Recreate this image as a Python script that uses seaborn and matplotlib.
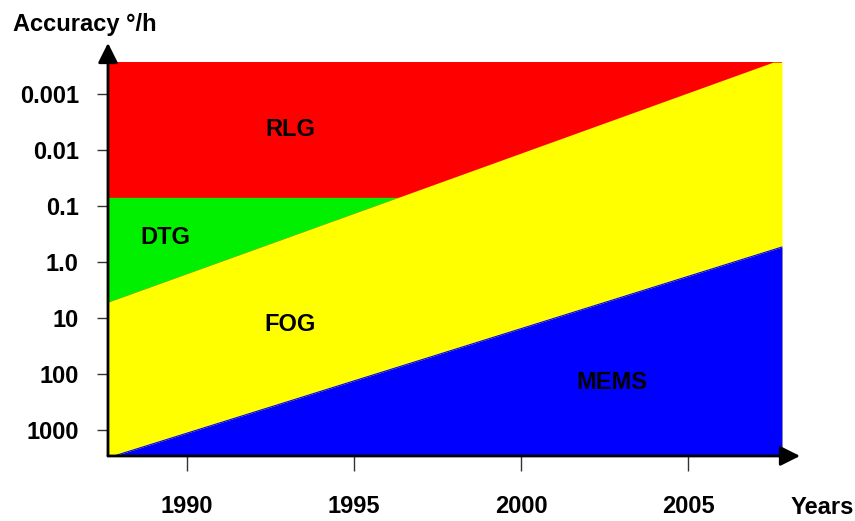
import numpy as np
import matplotlib
matplotlib.use("Agg")
import matplotlib.pyplot as plt
import seaborn as sns

sns.set_style("white")
plt.rcParams["font.family"] = ["Liberation Sans", "DejaVu Sans"]
plt.rcParams["font.weight"] = "bold"
plt.rcParams["text.color"] = "black"
plt.rcParams["xtick.color"] = "black"
plt.rcParams["ytick.color"] = "black"

# Time span covered by the technology map (years)
year_start = 1987.63
year_end = 2007.81

# Accuracy band limits (deg/h), smaller = better (top of chart)
best_accuracy = 2.7e-4
worst_accuracy = 2900.0

# DTG upper accuracy limit (flat boundary with RLG)
dtg_limit = 0.07

# FOG best-accuracy boundary over time
fog_years = [1987.63, 2007.54, 2007.81]
fog_edge = [5.2, 2.7e-4, 2.7e-4]

# MEMS best-accuracy boundary over time
mems_years = [1987.82, 2007.81]
mems_edge = [2900.0, 0.54]

# Region labels
labels = ["RLG", "DTG", "FOG", "MEMS"]
label_years = [1993.08, 1989.34, 1993.08, 2002.72]
label_acc = [10 ** -2.36, 10 ** -0.43, 10 ** 1.125, 10 ** 2.16]

ytick_vals = [0.001, 0.01, 0.1, 1.0, 10, 100, 1000]
ytick_text = ["0.001", "0.01", "0.1", "1.0", "10", "100", "1000"]
xtick_vals = [1990, 1995, 2000, 2005]
xtick_text = ["1990", "1995", "2000", "2005"]

RED, GREEN, YELLOW, BLUE = "#ff0000", "#00f000", "#ffff00", "#0000ff"
FS = 17

fig = plt.figure(figsize=(8.55, 5.21), dpi=100)
ax = fig.add_axes([0.1263, 0.1248, 0.8094, 0.7927])
ax.set_yscale("log")

# RLG: the full background band
ax.fill_between([year_start, year_end], [best_accuracy] * 2, [worst_accuracy] * 2,
                color=RED, linewidth=0)

# DTG: below the flat limit and above the FOG edge (crossing found in log space)
fog_log = np.log10(fog_edge)
cross = np.interp(np.log10(dtg_limit), fog_log[:2][::-1], np.array(fog_years[:2])[::-1])
dtg_x = np.array([year_start, cross])
dtg_low = 10 ** np.interp(dtg_x, fog_years, fog_log)
ax.fill_between(dtg_x, [dtg_limit] * 2, dtg_low, color=GREEN, linewidth=0)

# FOG: from its edge down to the bottom
ax.fill_between(fog_years, fog_edge, [worst_accuracy] * len(fog_years),
                color=YELLOW, linewidth=0)

# MEMS: from its edge down to the bottom
ax.fill_between(mems_years, mems_edge, [worst_accuracy] * len(mems_years),
                color=BLUE, linewidth=0)

sns.lineplot(x=mems_years, y=mems_edge, ax=ax, color=BLUE, linewidth=0.8)

for name, xv, yv in zip(labels, label_years, label_acc):
    ax.text(xv, yv, name, ha="center", va="center", fontsize=FS,
            fontweight="bold", color="black")

ax.set_xlim(year_start, 2008.35)
ax.set_ylim(10 ** 3.464, 10 ** -3.911)

ax.yaxis.set_minor_locator(matplotlib.ticker.NullLocator())
ax.set_yticks(ytick_vals)
ax.set_yticklabels(ytick_text)
ax.set_xticks(xtick_vals)
ax.set_xticklabels(xtick_text)
ax.tick_params(axis="y", direction="out", length=8, width=1.0, color="#333333",
               pad=13, labelsize=FS, labelcolor="black", left=True)
ax.tick_params(axis="x", direction="out", length=11, width=1.0, color="#333333",
               pad=17, labelsize=FS, labelcolor="black", bottom=True)
for lab in ax.get_xticklabels() + ax.get_yticklabels():
    lab.set_fontweight("bold")

for s in ax.spines.values():
    s.set_visible(False)

# Axis lines with arrow heads
arrow_style = dict(arrowstyle="-|>,head_length=0.6,head_width=0.3",
                   color="black", lw=2, shrinkA=0, shrinkB=0, mutation_scale=20)
ax.annotate("", xy=(1, 0), xytext=(0, 0), xycoords="axes fraction",
            textcoords="axes fraction", arrowprops=arrow_style, annotation_clip=False)
ax.annotate("", xy=(0, 1), xytext=(0, 0), xycoords="axes fraction",
            textcoords="axes fraction", arrowprops=arrow_style, annotation_clip=False)

fig.text(13 / 855, 1 - 25 / 521, "Accuracy °/h", ha="left", va="center",
         fontsize=FS, fontweight="bold", color="black")
fig.text(822 / 855, 1 - 507 / 521, "Years", ha="center", va="center",
         fontsize=FS, fontweight="bold", color="black")

fig.savefig("out.png", dpi=100)
